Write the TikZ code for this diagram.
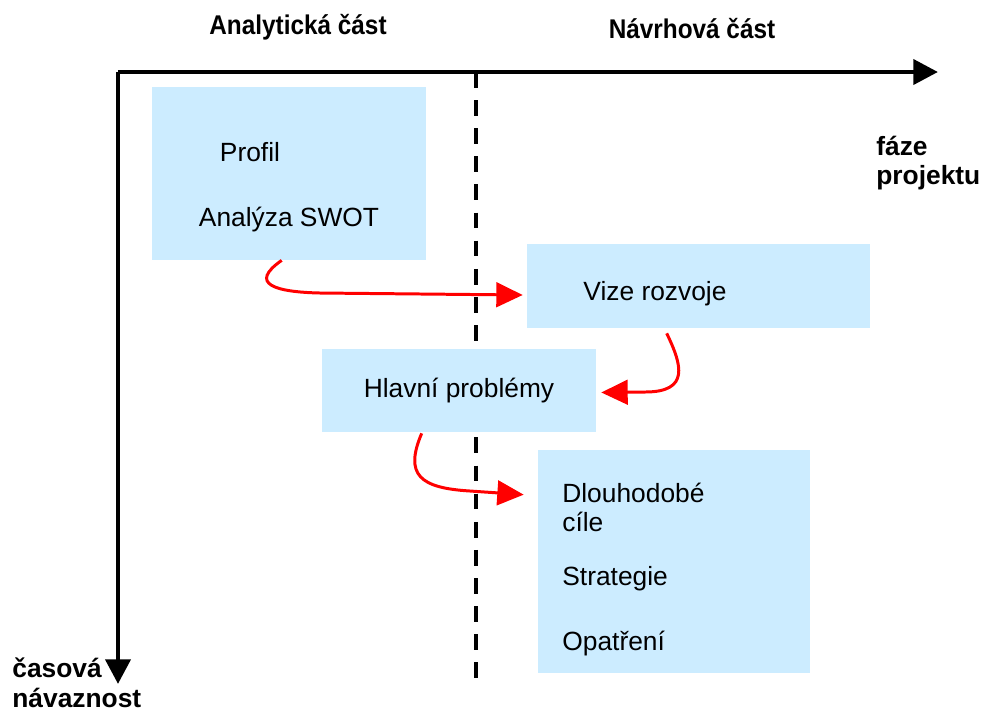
\documentclass[tikz,border=0pt]{standalone}
\usepackage{fontspec}
\setmainfont{Liberation Sans}
\newfontfamily\headfont[FakeStretch=0.9]{Liberation Sans}
\usetikzlibrary{arrows.meta,calc}
\definecolor{boxblue}{RGB}{204,236,255}

\begin{document}
\begin{tikzpicture}[x=0.02cm,y=-0.02cm,
	box/.style={fill=boxblue,inner sep=0pt},
	txt/.style={font=\fontsize{15}{17}\selectfont,inner sep=0pt},
	lbl/.style={font=\bfseries\fontsize{15}{17}\selectfont,align=left,inner sep=0pt},
	head/.style={font=\headfont\bfseries\fontsize{15.4}{17}\selectfont,inner sep=0pt},
	axis/.style={line width=2.8pt,-{Triangle[length=14pt,width=14pt]}},
	rarrow/.style={red,line width=1.7pt,-{Triangle[length=15pt,width=14pt]}}]
		\useasboundingbox (0,0) rectangle (982,711);
		% axes
		\coordinate (o) at (118,72);
		\coordinate (xend) at (938,72);
		\coordinate (yend) at (118,684);
		\draw[axis](o)--(xend);
		\draw[axis](o)--(yend);
		\coordinate (dtop) at (476,72);
		\coordinate (dbot) at (476,681);
		\draw[line width=2.5pt,dash pattern=on 9pt off 7pt](dtop)--(dbot);
		\node[head] (analyt) at (298,27) {Analytická část};
		\node[head] (navrh) at (692,29) {Návrhová část};
		\node[lbl,anchor=west] (faze) at (876,163) {fáze\\projektu};
		\node[lbl,anchor=west] (cas) at (12,683) {časová\\návaznost};
		% boxes
		\node[box,minimum width=5.48cm,minimum height=3.46cm] (profil) at (289,173.5) {};
		\node[txt] (profiltxt) at (250,152) {Profil};
		\node[txt] (swot) at (289,220) {Analýza SWOT};
		\node[box,minimum width=6.86cm,minimum height=1.68cm] (vize) at (698.5,286) {};
		\node[txt] (vizetxt) at (655,294) {Vize rozvoje};
		\node[box,txt,minimum width=5.48cm,minimum height=1.66cm] (problemy) at (459,390.5) {Hlavní problémy};
		\node[box,minimum width=5.44cm,minimum height=4.46cm] (cile) at (674,561.5) {};
		\node[txt,anchor=west] (dlouho) at (562,493) {Dlouhodobé};
		\node[txt,anchor=west] (ciletxt) at (562,522) {cíle};
		\node[txt,anchor=west] (strat) at (562,579) {Strategie};
		\node[txt,anchor=west] (opatr) at (562,644) {Opatření};
		% red arrows
		\draw[rarrow]($(profil.south west)+(130,0)$) .. controls (248,284) and (275,292) .. (320,293)--($(vize.west)+(-4,9)$);
		\draw[rarrow]($(vize.south west)+(140,5)$) .. controls (682,365) and (690,392) .. (645,392)--($(problemy.east)+(5,2)$);
		\draw[rarrow]($(problemy.south west)+(100,1)$) .. controls (404,475) and (420,488) .. (470,491)--($(cile.north west)+(-14,45)$);
\end{tikzpicture}
\end{document}
